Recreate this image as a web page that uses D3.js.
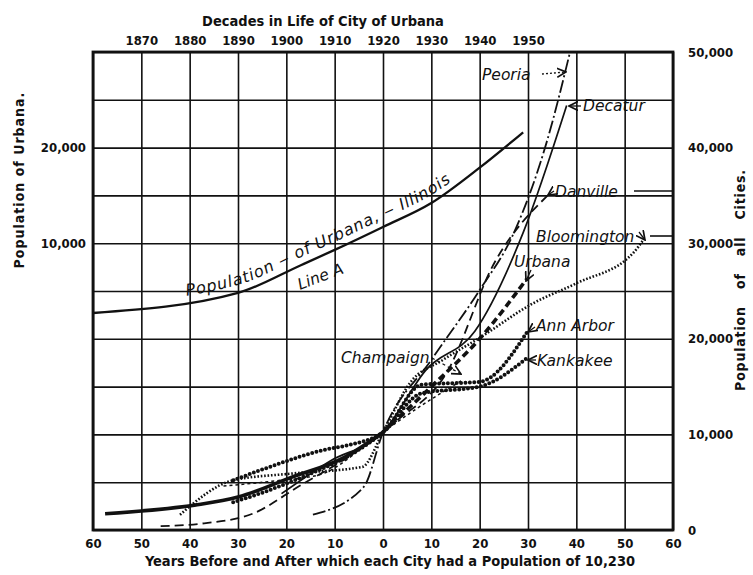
<!DOCTYPE html>
<html lang="en">
<head>
<meta charset="UTF-8">
<title>Decades in Life of City of Urbana</title>
<script src="https://d3js.org/d3.v7.min.js"></script>
<style>
    body { margin: 0; background: #fff; }
    svg { display: block; background: #fff; }
    .axis text { font-family: "DejaVu Sans Condensed", "DejaVu Sans", sans-serif; font-weight: bold; font-size: 13px; fill: #111; }
    .axis path { display: none; }
    .grid line { stroke: #111; stroke-width: 1.6; }
    .grid path { display: none; }
    .title { font-family: "DejaVu Sans Condensed", "DejaVu Sans", sans-serif; font-weight: bold; font-size: 14.5px; fill: #111; }
    .lbl { font-family: "DejaVu Sans", sans-serif; font-style: italic; font-size: 15.5px; fill: #111; }
</style>
</head>
<body>
<svg width="753" height="575"></svg>
<script>
    // tick labels
    const offsetTicks = [-60, -50, -40, -30, -20, -10, 0, 10, 20, 30, 40, 50, 60];
    const decadeTicks = [1870, 1880, 1890, 1900, 1910, 1920, 1930, 1940, 1950];
    const rightTicks = [0, 10000, 20000, 30000, 40000, 50000];
    const leftTicks = [10000, 20000];

    // Line A, population of Urbana (left scale), by calendar year
    const lineAYears = [1860, 1890, 1903, 1910, 1920, 1930, 1940, 1949];
    const lineAPop = [2700, 4800, 7700, 9300, 11700, 14200, 17900, 21600];

    // cities: [years before/after reaching 10,230, population]
    const urbanaPast = [[-57.5, 1700], [-39, 2600], [-30, 3450], [-19, 5500], [-8, 7600], [0, 10230]];
    const urbanaAhead = [[0, 10230], [10, 15000], [20, 20000], [29.8, 26300]];
    const peoria = [[-14.5, 1600], [-4, 4500], [0, 10230], [10, 17800], [20, 25100], [27, 31000], [34, 40800], [38.7, 50000]];
    const decatur = [[-21, 3800], [-11, 7200], [0, 10230], [9, 16800], [19, 20800], [29, 31100], [38, 44400]];
    const danville = [[-46, 400], [-37, 700], [-27, 1700], [-17, 4700], [-7, 7700], [0, 10230], [3, 11500], [13, 16300], [23, 27900], [34.5, 35200]];
    const bloomington = [[-42, 1600], [-31, 5200], [-19, 5900], [-4.3, 6600], [0, 10230], [5.6, 15400], [12.4, 17800], [20, 20100], [31, 23700], [40, 25800], [51.8, 29000], [53.8, 30300]];
    const annArbor = [[-31, 5200], [-24, 6500], [-12, 8400], [-7, 8900], [0, 10230], [8, 15200], [20, 15500], [29.8, 20700]];
    const kankakee = [[-31, 2900], [-25, 3900], [-14.5, 6000], [-8, 7500], [0, 10230], [8, 14300], [20, 15000], [29.8, 18000]];
    const champaign = [[-33, 4600], [-23, 5100], [-13, 5800], [-3, 9100], [0, 10230], [7, 12700], [16.5, 15700]];

    const pLeft = 93, pRight = 673, pTop = 52, pBottom = 530;

    const svg = d3.select("svg");

    const x = d3.scaleLinear().domain([-60, 60]).range([pLeft, pRight]);
    const xYear = d3.scaleLinear().domain([1860, 1980]).range([pLeft, pRight]);
    const yR = d3.scaleLinear().domain([0, 50000]).range([pBottom, pTop]);
    const yL = d3.scaleLinear().domain([-20000, 30000]).range([pBottom, pTop]);

    svg.append("defs").append("marker")
        .attr("id", "arr")
        .attr("viewBox", "0 0 8 8")
        .attr("refX", 7).attr("refY", 4)
        .attr("markerWidth", 8).attr("markerHeight", 8)
        .attr("orient", "auto")
        .append("path")
        .attr("d", "M0,0.5 L7,4 L0,7.5")
        .attr("fill", "none")
        .attr("stroke", "#111")
        .attr("stroke-width", 1.3);

    // grid
    svg.append("g").attr("class", "grid")
        .attr("transform", `translate(0,${pBottom})`)
        .call(d3.axisBottom(x).tickValues(offsetTicks).tickSize(-(pBottom - pTop)).tickFormat(""));
    svg.append("g").attr("class", "grid")
        .attr("transform", `translate(${pRight},0)`)
        .call(d3.axisRight(yR).tickValues(d3.range(0, 50001, 5000)).tickSize(-(pRight - pLeft)).tickFormat(""));

    svg.append("rect")
        .attr("x", pLeft).attr("y", pTop)
        .attr("width", pRight - pLeft).attr("height", pBottom - pTop)
        .attr("fill", "none").attr("stroke", "#111").attr("stroke-width", 2.8);

    // axes
    svg.append("g").attr("class", "axis")
        .attr("transform", `translate(0,${pBottom})`)
        .call(d3.axisBottom(x).tickValues(offsetTicks).tickSize(0).tickPadding(9).tickFormat(d => Math.abs(d)));
    svg.append("g").attr("class", "axis")
        .attr("transform", `translate(0,${pTop})`)
        .call(d3.axisTop(xYear).tickValues(decadeTicks).tickSize(0).tickPadding(7).tickFormat(d => d));
    svg.append("g").attr("class", "axis")
        .attr("transform", `translate(${pRight},0)`)
        .call(d3.axisRight(yR).tickValues(rightTicks).tickSize(0).tickPadding(15).tickFormat(d3.format(",")));
    svg.append("g").attr("class", "axis")
        .attr("transform", `translate(${pLeft},0)`)
        .call(d3.axisLeft(yL).tickValues(leftTicks).tickSize(0).tickPadding(7).tickFormat(d3.format(",")));

    svg.append("text").attr("class", "title")
        .attr("x", 323).attr("y", 26).attr("text-anchor", "middle")
        .text("Decades in Life of City of Urbana");
    svg.append("text").attr("class", "title")
        .attr("x", 390).attr("y", 566).attr("text-anchor", "middle")
        .text("Years Before and After which each City had a Population of 10,230");
    svg.append("text").attr("class", "title")
        .attr("transform", "translate(24,180) rotate(-90)")
        .attr("text-anchor", "middle")
        .style("font-size", "14px").style("letter-spacing", "1px")
        .text("Population of Urbana.");
    svg.append("text").attr("class", "title")
        .attr("transform", "translate(745,280) rotate(-90)")
        .attr("text-anchor", "middle")
        .style("font-size", "14px").style("letter-spacing", "0.8px").style("word-spacing", "12px")
        .text("Population of all Cities.");

    // lines
    const cityLine = d3.line()
        .x(d => x(d[0]))
        .y(d => yR(d[1]))
        .curve(d3.curveMonotoneX);

    const lineA = d3.line()
        .x((d, i) => xYear(lineAYears[i]))
        .y(d => yL(d))
        .curve(d3.curveMonotoneX);

    const series = [
        { data: urbanaPast, w: 3.6, dash: null },
        { data: urbanaAhead, w: 3.6, dash: "7,4" },
        { data: peoria, w: 1.8, dash: "13,3,2,3" },
        { data: decatur, w: 1.7, dash: null },
        { data: danville, w: 1.8, dash: "9,5" },
        { data: bloomington, w: 2.6, dash: "1.6,1.8" },
        { data: annArbor, w: 4, dash: "0,4.4", cap: "round" },
        { data: kankakee, w: 4, dash: "0,4.4", cap: "round" },
        { data: champaign, w: 1.5, dash: "3,3" }
    ];

    svg.append("g").selectAll("path")
        .data(series)
        .enter().append("path")
        .attr("d", d => cityLine(d.data))
        .attr("fill", "none")
        .attr("stroke", "#111")
        .attr("stroke-width", d => d.w)
        .attr("stroke-dasharray", d => d.dash)
        .attr("stroke-linecap", d => d.cap || "butt");

    svg.append("path")
        .attr("id", "lineA")
        .attr("d", lineA(lineAPop))
        .attr("fill", "none")
        .attr("stroke", "#111")
        .attr("stroke-width", 2.3);

    svg.append("g").attr("transform", "translate(0,-8)")
        .append("text").attr("class", "lbl")
        .style("font-size", "16px").style("letter-spacing", "0.9px")
        .append("textPath")
        .attr("href", "#lineA")
        .attr("startOffset", 94)
        .text("Population \u2012 of  Urbana, \u2012 Illinois");

    svg.append("text").attr("class", "lbl")
        .attr("transform", "translate(300,290) rotate(-21)")
        .text("Line A");

    // city labels
    const labels = [
        { t: "Peoria", x: 482, y: 80 },
        { t: "Decatur", x: 583, y: 111 },
        { t: "Danville", x: 555, y: 197 },
        { t: "Bloomington", x: 536, y: 242 },
        { t: "Urbana", x: 514, y: 267 },
        { t: "Ann Arbor", x: 536, y: 331 },
        { t: "Kankakee", x: 537, y: 366 },
        { t: "Champaign", x: 341, y: 363 }
    ];
    svg.append("g").selectAll("text")
        .data(labels)
        .enter().append("text")
        .attr("class", "lbl")
        .attr("x", d => d.x).attr("y", d => d.y)
        .text(d => d.t);

    const leaders = [
        { x1: 542, y1: 74, x2: 566, y2: 72, dash: "2,2" },
        { x1: 581, y1: 106, x2: 569, y2: 106, dash: null },
        { x1: 554, y1: 191, x2: 548, y2: 195, dash: null },
        { x1: 639, y1: 232, x2: 645, y2: 240, dash: null },
        { x1: 531, y1: 270, x2: 526, y2: 281, dash: null },
        { x1: 535, y1: 327, x2: 528, y2: 332, dash: null },
        { x1: 536, y1: 360, x2: 528, y2: 360, dash: null },
        { x1: 432, y1: 358, x2: 461, y2: 374, dash: "3,3" }
    ];
    svg.append("g").selectAll("line")
        .data(leaders)
        .enter().append("line")
        .attr("x1", d => d.x1).attr("y1", d => d.y1)
        .attr("x2", d => d.x2).attr("y2", d => d.y2)
        .attr("stroke", "#111")
        .attr("stroke-width", 1.3)
        .attr("stroke-dasharray", d => d.dash)
        .attr("marker-end", "url(#arr)");

    // short rules running from labels to the frame
    svg.append("line").attr("x1", 634).attr("y1", 191).attr("x2", pRight).attr("y2", 191)
        .attr("stroke", "#111").attr("stroke-width", 1.6);
    svg.append("line").attr("x1", 650).attr("y1", 236).attr("x2", pRight).attr("y2", 236)
        .attr("stroke", "#111").attr("stroke-width", 1.6);
</script>
</body>
</html>
